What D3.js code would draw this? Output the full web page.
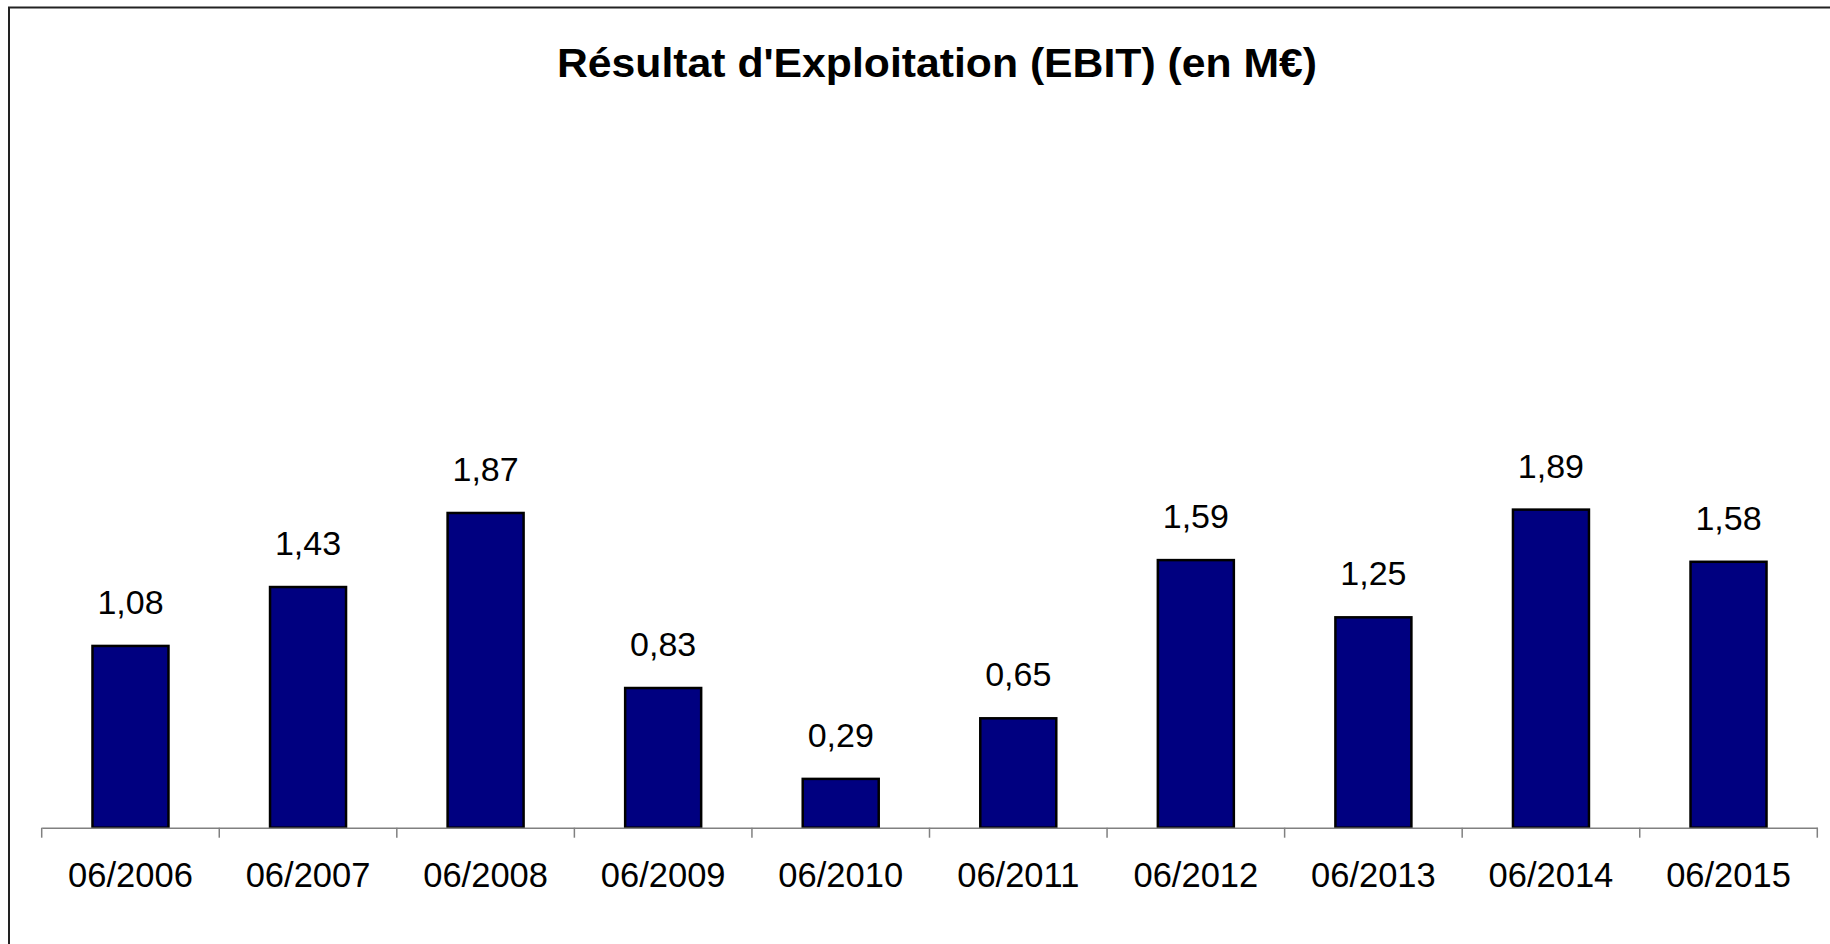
<!DOCTYPE html>
<html>
<head>
<meta charset="utf-8">
<title>Résultat d'Exploitation (EBIT)</title>
<style>
  body { margin: 0; background: #fff; }
  svg { display: block; }
  text { font-family: "Liberation Sans", Arial, sans-serif; fill: #000; }
</style>
</head>
<body>
<svg id="chart"></svg>
<script src="https://d3js.org/d3.v7.min.js"></script>
<script>
var titleText = "Résultat d'Exploitation (EBIT) (en M€)";
var categories = ["06/2006", "06/2007", "06/2008", "06/2009", "06/2010", "06/2011", "06/2012", "06/2013", "06/2014", "06/2015"];
var ebit = [1.08, 1.43, 1.87, 0.83, 0.29, 0.65, 1.59, 1.25, 1.89, 1.58];
var valueLabels = ["1,08", "1,43", "1,87", "0,83", "0,29", "0,65", "1,59", "1,25", "1,89", "1,58"];

var svgWidth = 1830, svgHeight = 944;
var axisY = 827.7;

var svg = d3.select("#chart")
    .attr("width", svgWidth)
    .attr("height", svgHeight);

// frame (only top and left edges fall inside the picture)
svg.append("rect")
    .attr("x", 9)
    .attr("y", 7.5)
    .attr("width", 2000)
    .attr("height", 1000)
    .attr("fill", "none")
    .attr("stroke", "#222")
    .attr("stroke-width", 2);

svg.append("text")
    .attr("x", 937)
    .attr("y", 77)
    .attr("text-anchor", "middle")
    .attr("font-size", 41)
    .attr("font-weight", "bold")
    .attr("textLength", 760)
    .attr("lengthAdjust", "spacingAndGlyphs")
    .text(titleText);

var xScale = d3.scaleBand()
    .domain(categories)
    .range([41.7, 1817.3])
    .padding(0);

var yScale = d3.scaleLinear()
    .domain([0, 2.5])
    .range([axisY, axisY - 2.5 * 168.3]);

var barWidth = xScale.bandwidth() * 0.428;

svg.selectAll("rect.bar")
    .data(ebit)
    .enter()
    .append("rect")
    .attr("class", "bar")
    .attr("x", function(d, i) { return xScale(categories[i]) + (xScale.bandwidth() - barWidth) / 2; })
    .attr("y", function(d) { return yScale(d); })
    .attr("width", barWidth)
    .attr("height", function(d) { return yScale(0) - yScale(d); })
    .attr("fill", "#000080")
    .attr("stroke", "#000")
    .attr("stroke-width", 2.5);

svg.selectAll("text.val")
    .data(ebit)
    .enter()
    .append("text")
    .attr("class", "val")
    .attr("x", function(d, i) { return xScale(categories[i]) + xScale.bandwidth() / 2; })
    .attr("y", function(d) { return yScale(d) - 32; })
    .attr("text-anchor", "middle")
    .attr("font-size", 34)
    .text(function(d, i) { return valueLabels[i]; });

// x axis: labels from d3 axis, ticks between categories
var xAxis = d3.axisBottom(xScale).tickSize(0).tickPadding(35);
var gx = svg.append("g")
    .attr("transform", "translate(0," + axisY + ")")
    .call(xAxis);
gx.select(".domain").attr("stroke", "#808080").attr("stroke-width", 1.5);
gx.selectAll("text")
    .attr("font-size", 34.5)
    .attr("fill", "#000")
    .style("font-family", '"Liberation Sans", Arial, sans-serif');

var boundaries = categories.map(function(c) { return xScale(c); }).concat([xScale.range()[1]]);
gx.selectAll("line.sep")
    .data(boundaries)
    .enter()
    .append("line")
    .attr("class", "sep")
    .attr("x1", function(d) { return d; })
    .attr("x2", function(d) { return d; })
    .attr("y1", 0)
    .attr("y2", 10)
    .attr("stroke", "#808080")
    .attr("stroke-width", 1.5);
</script>
</body>
</html>
